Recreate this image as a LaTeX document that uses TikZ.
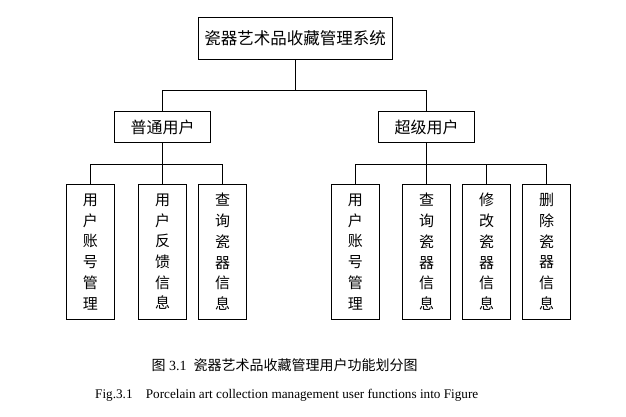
\documentclass[tikz,border=0pt]{standalone}
\usepackage{fontspec}
\setmainfont{Liberation Serif}
\newfontfamily\cjk{Noto Sans CJK SC}
\begin{document}
\begin{tikzpicture}[x=1pt,y=-1pt,
  box/.style={draw=black,line width=1pt,inner sep=0pt,align=center},
  topbox/.style={box,minimum width=194pt,minimum height=42pt,font=\cjk\fontsize{16.5}{18}\selectfont},
  midbox/.style={box,minimum width=96pt,minimum height=30.6pt,font=\cjk\fontsize{16}{18}\selectfont},
  leafbox/.style={box,minimum width=47.5pt,minimum height=135pt,font=\cjk\fontsize{15}{20.7}\selectfont},
  conn/.style={draw=black,line width=1pt},
  captext/.style={inner sep=0pt,anchor=west}]
\useasboundingbox (0,0) rectangle (626,417);
\fill[white] (0,0) rectangle (626,417);
% nodes
\node[topbox] (top) at (295.2,38.3) {瓷器艺术品收藏管理系统};
\node[midbox] (m1) at (162.5,127) {普通用户};
\node[midbox] (m2) at (426.6,127) {超级用户};
\node[leafbox] (l1) at (90.4,251.9) {用\\户\\账\\号\\管\\理};
\node[leafbox] (l2) at (162.5,251.9) {用\\户\\反\\馈\\信\\息};
\node[leafbox] (l3) at (222.5,251.9) {查\\询\\瓷\\器\\信\\息};
\node[leafbox] (r1) at (355.3,251.9) {用\\户\\账\\号\\管\\理};
\node[leafbox] (r2) at (426.6,251.9) {查\\询\\瓷\\器\\信\\息};
\node[leafbox] (r3) at (486.7,251.9) {修\\改\\瓷\\器\\信\\息};
\node[leafbox] (r4) at (546.5,251.9) {删\\除\\瓷\\器\\信\\息};
% bus levels
\coordinate (bus1) at (0,90.5);
\coordinate (bus2) at (0,164);
% connectors
\draw[conn] (top.south) -- (top.south |- bus1);
\draw[conn] (m1.north) |- (m2.north |- bus1) -- (m2.north);
\draw[conn] (m1.south) -- (l2.north);
\draw[conn] (l1.north) |- (l3.north |- bus2) -- (l3.north);
\draw[conn] (m2.south) -- (r2.north);
\draw[conn] (r1.north) |- (r4.north |- bus2) -- (r4.north);
\draw[conn] (r3.north) -- (r3.north |- bus2);
% captions
\node[captext,font=\fontsize{14}{16}\selectfont] (capcn) at (151.5,365) {{\cjk 图} 3.1\ \ {\cjk 瓷器艺术品收藏管理用户功能划分图}};
\node[captext,font=\fontsize{13.2}{15}\selectfont] (capen) at (95,395) {Fig.3.1\quad Porcelain art collection management user functions into Figure};
\end{tikzpicture}
\end{document}
